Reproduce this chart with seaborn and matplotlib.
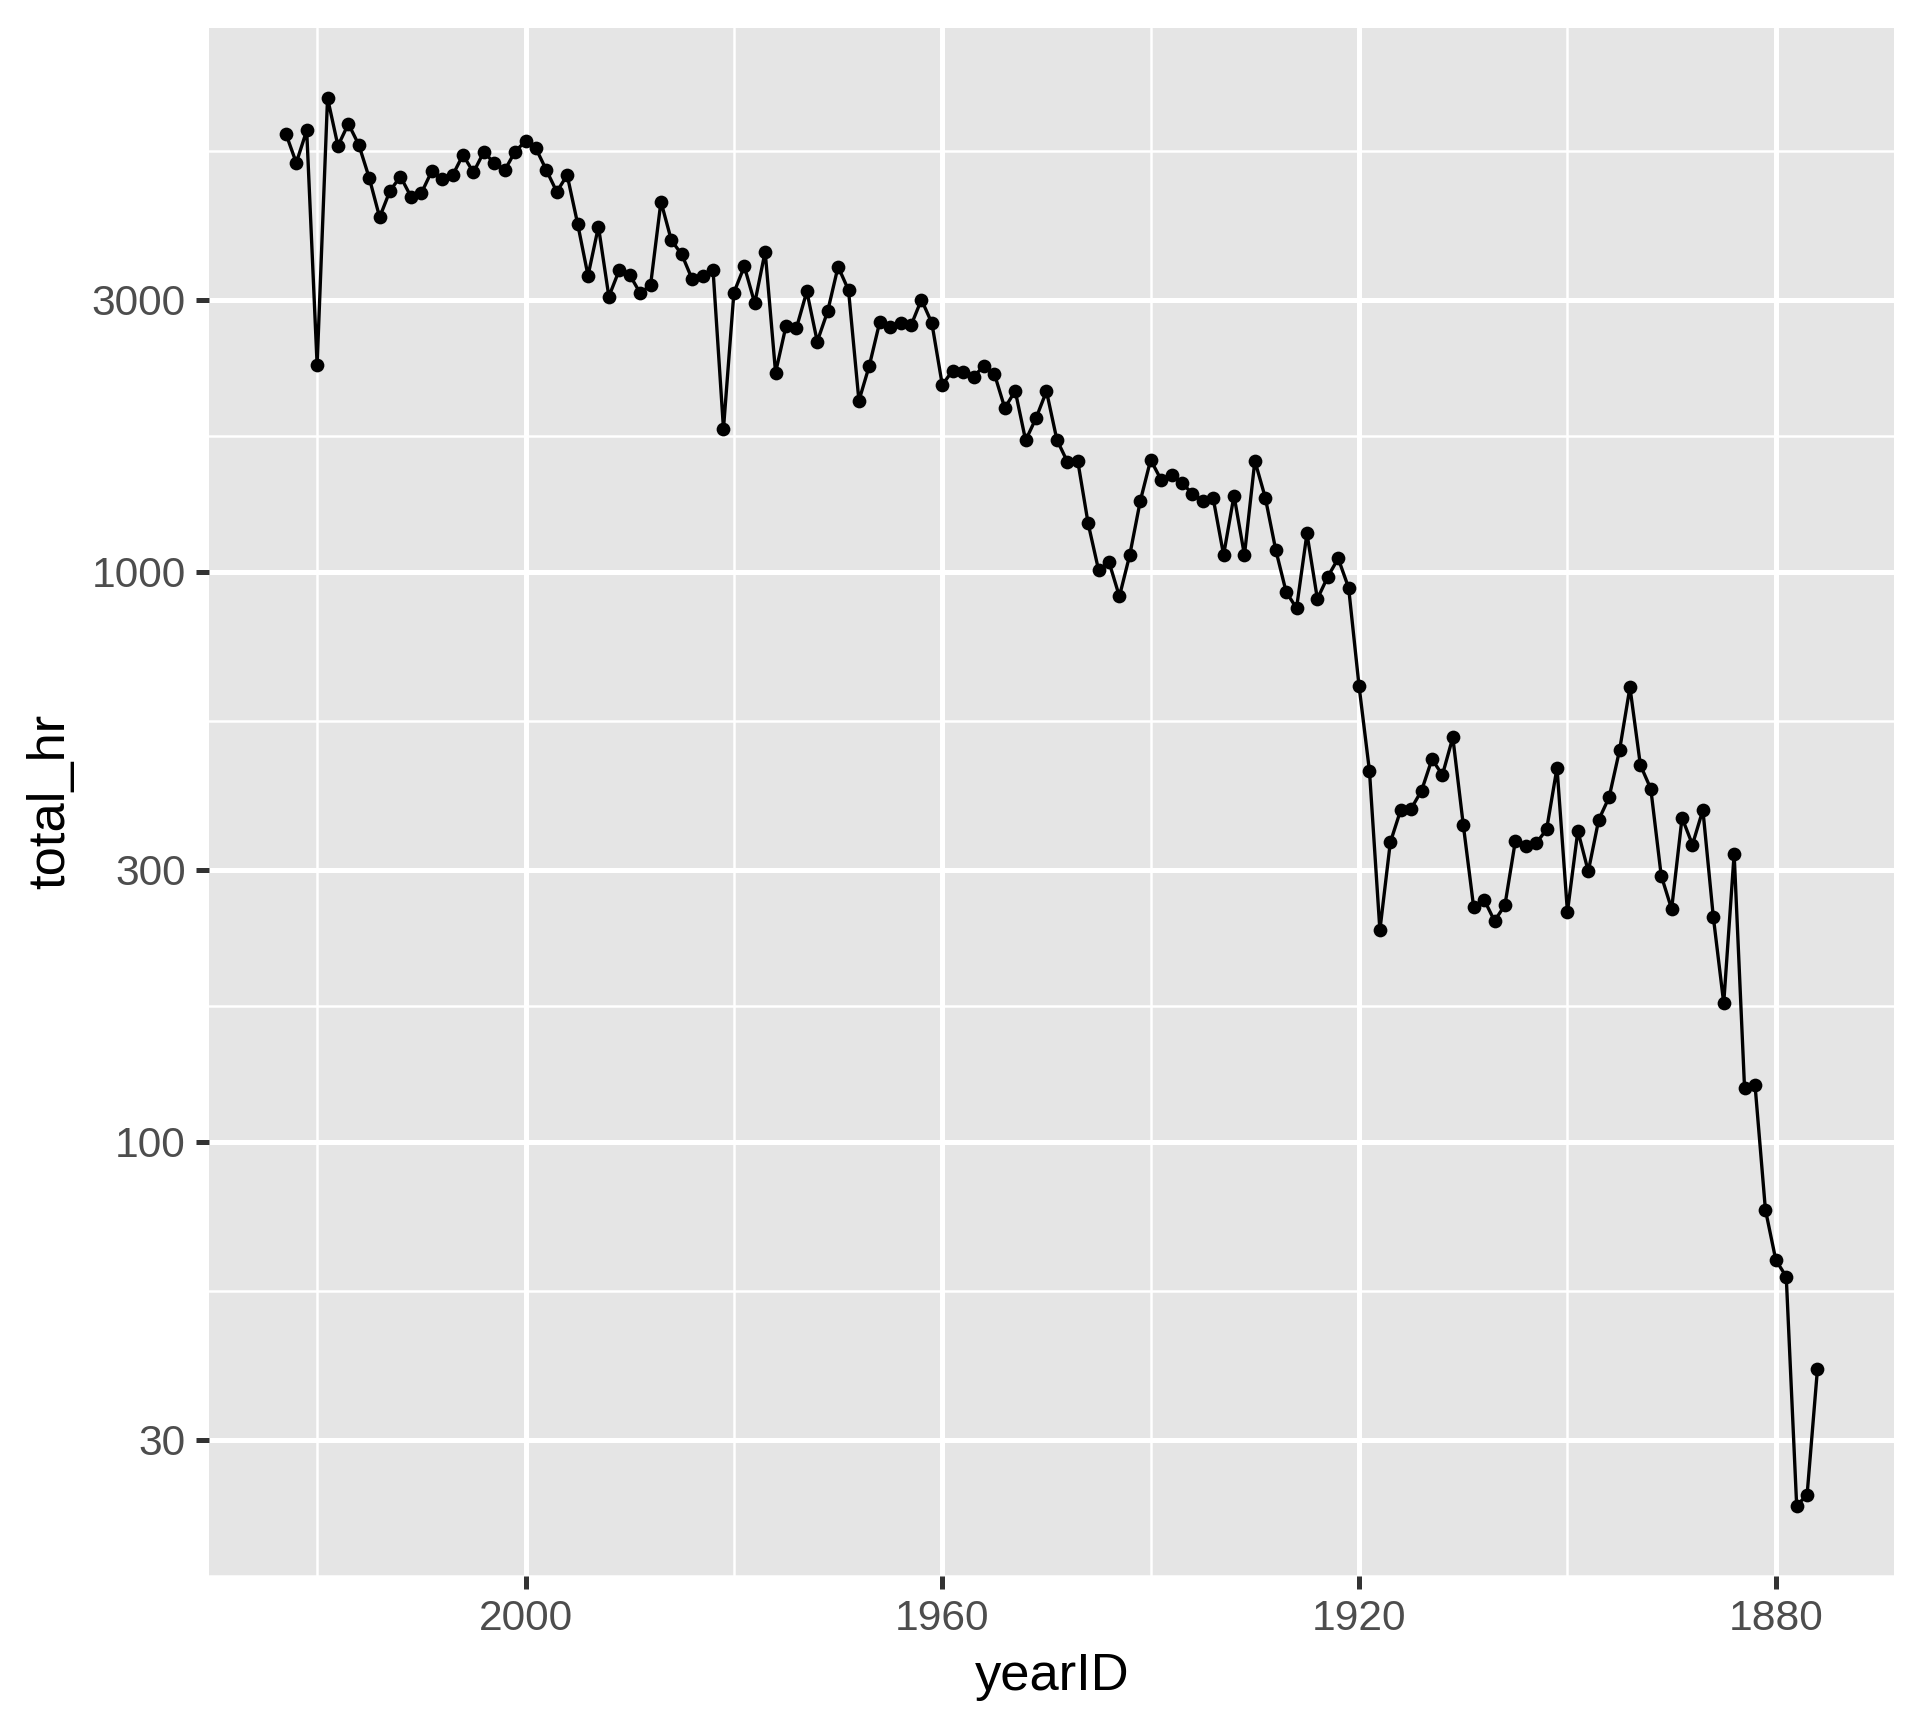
import matplotlib
matplotlib.use('Agg')

import matplotlib.pyplot as plt
import matplotlib.ticker as mticker
import seaborn as sns
import pandas as pd
import numpy as np

# --- Data: total home runs per season ---
years = [
    1876, 1877, 1878, 1879,
    1880, 1881, 1882, 1883, 1884, 1885, 1886, 1887, 1888, 1889,
    1890, 1891, 1892, 1893, 1894, 1895, 1896, 1897, 1898, 1899,
    1900, 1901, 1902, 1903, 1904, 1905, 1906, 1907, 1908, 1909,
    1910, 1911, 1912, 1913, 1914, 1915, 1916, 1917, 1918, 1919,
    1920, 1921, 1922, 1923, 1924, 1925, 1926, 1927, 1928, 1929,
    1930, 1931, 1932, 1933, 1934, 1935, 1936, 1937, 1938, 1939,
    1940, 1941, 1942, 1943, 1944, 1945, 1946, 1947, 1948, 1949,
    1950, 1951, 1952, 1953, 1954, 1955, 1956, 1957, 1958, 1959,
    1960, 1961, 1962, 1963, 1964, 1965, 1966, 1967, 1968, 1969,
    1970, 1971, 1972, 1973, 1974, 1975, 1976, 1977, 1978, 1979,
    1980, 1981, 1982, 1983, 1984, 1985, 1986, 1987, 1988, 1989,
    1990, 1991, 1992, 1993, 1994, 1995, 1996, 1997, 1998, 1999,
    2000, 2001, 2002, 2003, 2004, 2005, 2006, 2007, 2008, 2009,
    2010, 2011, 2012, 2013, 2014, 2015, 2016, 2017, 2018, 2019,
    2020, 2021, 2022, 2023,
]

total_hr = [
    40, 24, 23, 58,
    62, 76, 126, 124, 320, 175, 248, 382, 332, 370,
    256, 293, 416, 458, 627, 486, 402, 367, 298, 351,
    253, 453, 353, 334, 330, 337, 260, 244, 266, 258,
    360, 512, 440, 469, 413, 384, 382, 335, 235, 447,
    630, 937, 1055, 980, 896, 1167, 863, 922, 1093, 1349,
    1565, 1069, 1360, 1070, 1345, 1330, 1370, 1432, 1480, 1450,
    1571, 1330, 1071, 905, 1040, 1007, 1215, 1565, 1560, 1704,
    2073, 1860, 1700, 2076, 1937, 2224, 2294, 2200, 2240, 2254,
    2127, 2730, 3001, 2704, 2730, 2688, 2743, 2299, 1995, 3119,
    3429, 2863, 2534, 3102, 2676, 2698, 2235, 3644, 2958, 3433,
    3087, 1781, 3379, 3301, 3258, 3602, 3813, 4458, 3180, 3083,
    3317, 3383, 3038, 4030, 3306, 4081, 4962, 4640, 5064, 5528,
    5693, 5458, 5059, 5207, 5451, 5017, 5386, 4957, 4878, 5042,
    4613, 4552, 4934, 4661, 4186, 4909, 5610, 6105, 5585, 6776,
    2304, 5944, 5215, 5868,
]

x_breaks = [1880, 1920, 1960, 2000]
x_minor = [1900, 1940, 1980, 2020]
y_breaks = [30, 100, 300, 1000, 3000]
y_labels = ["30", "100", "300", "1000", "3000"]

df = pd.DataFrame({"yearID": years, "total_hr": total_hr})

# --- ggplot-like grey theme ---
sns.set_theme(style="darkgrid", rc={
    "axes.facecolor": "#E5E5E5",
    "grid.color": "white",
    "axes.edgecolor": "none",
})
plt.rcParams['font.family'] = ['Liberation Sans', 'DejaVu Sans']

fig = plt.figure(figsize=(6.4, 5.76), dpi=300)
ax = fig.add_axes([0.109, 0.088, 0.8775, 0.896])

sns.lineplot(data=df, x="yearID", y="total_hr", ax=ax, color="black",
             linewidth=0.8, marker="o", markersize=3.3,
             markeredgewidth=0, estimator=None, zorder=3)

ax.set_yscale("log")

# ggplot-style 5% expansion
x0, x1 = min(years), max(years)
xpad = (x1 - x0) * 0.05
ax.set_xlim(x1 + xpad, x0 - xpad)
ly0, ly1 = np.log10(min(total_hr)), np.log10(max(total_hr))
lpad = (ly1 - ly0) * 0.05
ax.set_ylim(10 ** (ly0 - lpad), 10 ** (ly1 + lpad))

ax.xaxis.set_major_locator(mticker.FixedLocator(x_breaks))
ax.xaxis.set_minor_locator(mticker.FixedLocator(x_minor))
ax.yaxis.set_major_locator(mticker.FixedLocator(y_breaks))
ax.yaxis.set_major_formatter(mticker.FixedFormatter(y_labels))
y_minor = [np.sqrt(a * b) for a, b in zip([10] + y_breaks, y_breaks + [10000])]
ax.yaxis.set_minor_locator(mticker.FixedLocator(y_minor))
ax.yaxis.set_minor_formatter(mticker.NullFormatter())

ax.grid(which="major", color="white", linewidth=1.2)
ax.grid(which="minor", color="white", linewidth=0.6)
ax.set_axisbelow(True)

ax.tick_params(axis="both", which="major", length=3.1, width=1.2,
               color="#333333", labelcolor="#4D4D4D", labelsize=10.2,
               pad=2.5, bottom=True, left=True)
ax.tick_params(axis="both", which="minor", length=0)
for s in ax.spines.values():
    s.set_visible(False)

ax.set_xlabel("yearID", fontsize=12.6, color="black", labelpad=3)
ax.set_ylabel("total_hr", fontsize=12.6, color="black", labelpad=4)

fig.savefig("out.png", dpi=300, facecolor="white")
